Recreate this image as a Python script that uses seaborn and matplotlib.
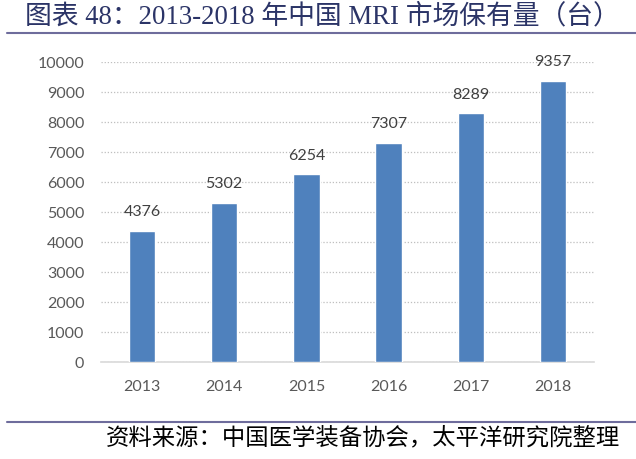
import numpy as np
import pandas as pd
import matplotlib
matplotlib.use("Agg")
import matplotlib.pyplot as plt
import seaborn as sns

# dados
anos = ["2013", "2014", "2015", "2016", "2017", "2018"]
valores = [4376, 5302, 6254, 7307, 8289, 9357]
titulo = "图表 48：2013-2018 年中国 MRI 市场保有量（台）"
fonte = "资料来源：中国医学装备协会，太平洋研究院整理"

sns.set_theme(style="white")
plt.rcParams['font.family'] = ['Lato', 'Noto Sans CJK SC', 'DejaVu Sans']

df = pd.DataFrame({"ano": anos, "valor": valores})

fig = plt.figure(figsize=(6.36, 4.59), dpi=100)
ax = fig.add_axes([0.1588, 0.2113, 0.775, 0.6536])

sns.barplot(data=df, x="ano", y="valor", color="#4F81BD", saturation=1,
            width=0.32, ax=ax, zorder=3)

ax.set_ylim(0, 10000)
ax.set_yticks(np.arange(0, 10001, 1000))
ax.set_xlim(-0.5, len(anos) - 0.5)
ax.grid(axis="y", linestyle=(0, (1, 1.5)), color="#BFBFBF", lw=0.9, zorder=0)
ax.grid(axis="x", visible=False)
for s in ["top", "right", "left"]:
    ax.spines[s].set_visible(False)
ax.spines["bottom"].set_color("#D9D9D9")
ax.spines["bottom"].set_linewidth(1.2)
ax.tick_params(axis="both", length=0, labelsize=11.5, labelcolor="#595959")
ax.tick_params(axis="x", pad=13)
ax.tick_params(axis="y", pad=12)
ax.set_xlabel("")
ax.set_ylabel("")

for i, v in enumerate(valores):
    ax.annotate(f"{v}", (i, v), xytext=(0, 8.5), textcoords="offset points",
                ha="center", va="bottom", fontsize=11.5, color="#404040",
                clip_on=False)

# titulo e linhas
fig.text(0.039, 0.963, titulo, ha="left", va="center", fontsize=19.3,
         color="#2B3467", family=['Liberation Serif', 'Noto Sans CJK SC'])
fig.add_artist(plt.Line2D([0.011, 1.0], [0.928, 0.928], color="#6E6C9C", lw=1.5))
fig.add_artist(plt.Line2D([0.011, 1.0], [0.0806, 0.0806], color="#6E6C9C", lw=1.5))
fig.text(0.975, 0.045, fonte, ha="right", va="center", fontsize=16.8,
         color="#000000", style="italic",
         family=['Noto Sans CJK SC', 'DejaVu Sans'])

fig.savefig("out.png", dpi=100)
